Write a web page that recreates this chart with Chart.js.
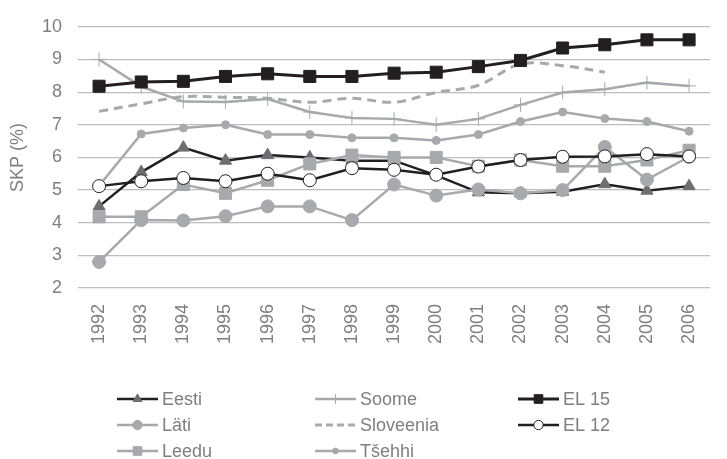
<!DOCTYPE html>
<html>
<head>
<meta charset="utf-8">
<script src="https://cdn.jsdelivr.net/npm/chart.js@4/dist/chart.umd.min.js"></script>
<style>
  html, body { margin: 0; padding: 0; background: #fff; }
  #wrap { width: 727px; height: 459px; }
</style>
</head>
<body>
<div id="wrap"><canvas id="myChart" width="727" height="459"></canvas></div>
<script>
var years = ['1992','1993','1994','1995','1996','1997','1998','1999','2000','2001','2002','2003','2004','2005','2006'];
var yTicks = [2, 3, 4, 5, 6, 7, 8, 9, 10];

var eesti     = [4.5, 5.55, 6.3, 5.9, 6.07, 6.0, 5.9, 5.9, 5.45, 4.93, 4.9, 4.95, 5.18, 4.98, 5.12];
var lati      = [2.8, 4.08, 4.07, 4.2, 4.5, 4.5, 4.08, 5.17, 4.83, 5.02, 4.9, 5.0, 6.32, 5.32, 6.02];
var leedu     = [4.18, 4.18, 5.17, 4.9, 5.3, 5.8, 6.07, 6.0, 6.0, 5.73, 5.92, 5.73, 5.73, 5.92, 6.22];
var soome     = [9.0, 8.17, 7.71, 7.7, 7.79, 7.39, 7.21, 7.18, 7.0, 7.18, 7.61, 7.99, 8.09, 8.29, 8.19];
var sloveenia = [7.41, 7.64, 7.86, 7.84, 7.81, 7.69, 7.81, 7.69, 7.99, 8.21, 8.86, 8.81, 8.61, null, null];
var tsehhi    = [5.13, 6.72, 6.9, 7.0, 6.7, 6.7, 6.6, 6.6, 6.52, 6.7, 7.1, 7.39, 7.19, 7.1, 6.8];
var el15      = [8.18, 8.31, 8.33, 8.48, 8.56, 8.48, 8.48, 8.58, 8.61, 8.78, 8.97, 9.35, 9.45, 9.6, 9.6];
var el12      = [5.12, 5.27, 5.37, 5.27, 5.5, 5.3, 5.67, 5.62, 5.47, 5.72, 5.92, 6.02, 6.03, 6.1, 6.03];

var dark = '#231f20';
var grey = '#a7a9ac';
var midGrey = '#6d6e71';
var textGrey = '#7f7f7f';
var font = '"Liberation Sans", Arial, sans-serif';

function series(label, data, opts) {
    return Object.assign({
        label: label,
        data: data,
        borderWidth: 2.5,
        tension: 0,
        pointBorderWidth: 1,
        spanGaps: false,
    }, opts);
}

var datasets = [
    series('Eesti', eesti, { borderColor: dark, pointStyle: 'triangle', pointRadius: 7, pointBackgroundColor: midGrey, pointBorderColor: midGrey }),
    series('Läti', lati, { borderColor: grey, pointStyle: 'circle', pointRadius: 6.5, pointBackgroundColor: grey, pointBorderColor: grey }),
    series('Leedu', leedu, { borderColor: grey, pointStyle: 'rect', pointRadius: 8.5, pointBackgroundColor: grey, pointBorderColor: grey }),
    series('Soome', soome, { borderColor: grey, pointStyle: 'cross', pointRadius: 7, pointBackgroundColor: grey, pointBorderColor: grey }),
    series('Sloveenia', sloveenia, { borderColor: grey, borderDash: [9, 6], borderWidth: 3, tension: 0.35, pointRadius: 0 }),
    series('Tšehhi', tsehhi, { borderColor: grey, pointStyle: 'circle', pointRadius: 4, pointBackgroundColor: grey, pointBorderColor: grey }),
    series('EL 15', el15, { borderColor: dark, borderWidth: 3, pointStyle: 'rect', pointRadius: 8.5, pointBackgroundColor: dark, pointBorderColor: dark }),
    series('EL 12', el12, { borderColor: dark, pointStyle: 'circle', pointRadius: 6.5, pointBackgroundColor: '#fff', pointBorderColor: dark }),
];
// later series sit on top, like the original
datasets.forEach(function (d, i) { d.order = datasets.length - i; });

// legend laid out in three columns (column by column)
var legendCols = [117, 315, 518];
var legendRows = [399, 425, 451];
var legendPlace = [[0,0],[0,1],[0,2],[1,0],[1,1],[1,2],[2,0],[2,1]];

var columnLegend = {
    id: 'columnLegend',
    afterDraw: function (chart) {
        var ctx = chart.ctx;
        ctx.save();
        chart.data.datasets.forEach(function (ds, i) {
            var x = legendCols[legendPlace[i][0]];
            var y = legendRows[legendPlace[i][1]];
            ctx.beginPath();
            ctx.strokeStyle = ds.borderColor;
            ctx.lineWidth = ds.borderWidth;
            ctx.setLineDash(ds.borderDash ? [7, 4] : []);
            ctx.moveTo(x, y);
            ctx.lineTo(x + 41, y);
            ctx.stroke();
            ctx.setLineDash([]);
            if (ds.pointRadius) {
                ctx.fillStyle = ds.pointBackgroundColor;
                ctx.strokeStyle = ds.pointBorderColor;
                ctx.lineWidth = 1;
                Chart.helpers.drawPoint(ctx, { pointStyle: ds.pointStyle, radius: ds.pointRadius * 0.72, borderWidth: 1 }, x + 20.5, y);
            }
            ctx.fillStyle = textGrey;
            ctx.font = '18px ' + font;
            ctx.textBaseline = 'middle';
            ctx.textAlign = 'left';
            ctx.fillText(ds.label, x + 45, y + 1);
        });
        ctx.restore();
    }
};

var ctx = document.getElementById('myChart').getContext('2d');
var chart = new Chart(ctx, {
    type: 'line',
    data: { labels: years, datasets: datasets },
    options: {
        responsive: false,
        animation: false,
        layout: { padding: { left: 4, right: 0, top: 9, bottom: 100 } },
        plugins: {
            legend: { display: false },
            tooltip: { enabled: false },
        },
        scales: {
            x: {
                offset: true,
                grid: { display: false, drawTicks: false },
                border: { display: false },
                ticks: {
                    minRotation: 90,
                    maxRotation: 90,
                    padding: 16,
                    color: textGrey,
                    font: { family: font, size: 18 },
                },
                afterFit: function (s) { s.height = 71; },
            },
            y: {
                min: 2,
                max: 10,
                afterBuildTicks: function (s) { s.ticks = yTicks.map(function (v) { return { value: v }; }); },
                grid: { color: '#bdbdbd', lineWidth: 1.2, drawTicks: false },
                border: { display: false },
                ticks: {
                    padding: 16,
                    color: textGrey,
                    font: { family: font, size: 18 },
                },
                title: {
                    display: true,
                    text: 'SKP (%)',
                    color: textGrey,
                    padding: { top: 3, bottom: 0 },
                    font: { family: font, size: 18 },
                },
                afterFit: function (s) { s.width = 74; },
            },
        },
    },
    plugins: [columnLegend],
});
</script>
</body>
</html>
